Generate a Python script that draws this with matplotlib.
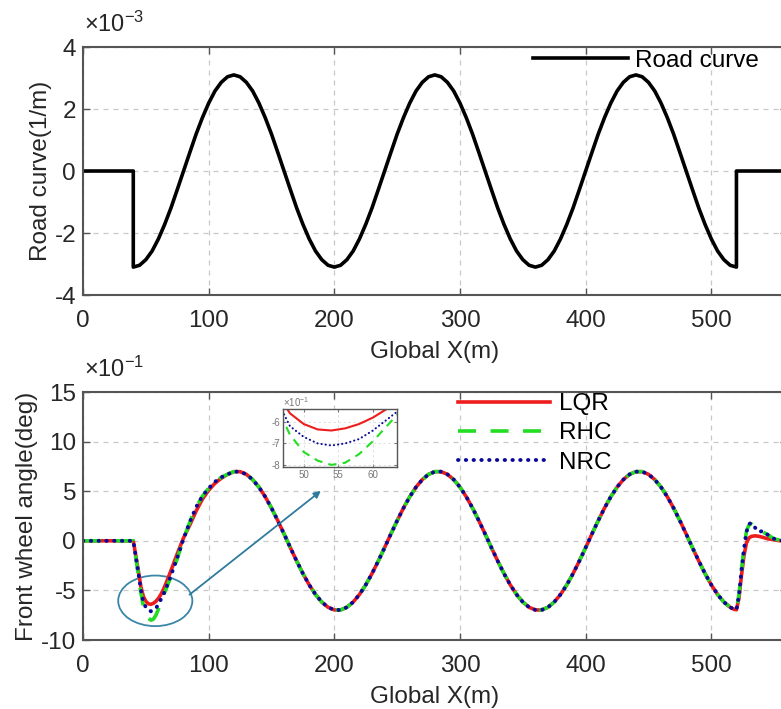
import numpy as np
import matplotlib
matplotlib.use("Agg")
import matplotlib.pyplot as plt
from matplotlib.patches import Ellipse

plt.rcParams['font.family'] = ['Liberation Sans', 'DejaVu Sans']
plt.rcParams['mathtext.fontset'] = 'custom'
plt.rcParams['mathtext.rm'] = 'Liberation Sans'
plt.rcParams['mathtext.it'] = 'Liberation Sans:italic'
plt.rcParams['mathtext.bf'] = 'Liberation Sans:bold'
plt.rcParams['axes.unicode_minus'] = False

TXT = '#262626'

road_x = [0, 5, 10, 15, 20, 25, 30, 35, 40, 40]
road_y = [0, 0, 0, 0, 0, 0, 0, 0, 0, -3.10]
# one 160 m period starting at the minimum, 5 m steps
road_period = [-3.10, -3.04, -2.86, -2.58, -2.19, -1.72, -1.19, -0.60,
               0.00, 0.60, 1.19, 1.72, 2.19, 2.58, 2.86, 3.04,
               3.10, 3.04, 2.86, 2.58, 2.19, 1.72, 1.19, 0.60,
               0.00, -0.60, -1.19, -1.72, -2.19, -2.58, -2.86, -3.04]
road_mid_y = road_period * 3 + [-3.10]
road_mid_x = list(range(40, 521, 5))
road_tail_x = [520, 525, 530, 540, 550, 560]
road_tail_y = [0, 0, 0, 0, 0, 0]

# ---- front wheel angle (x1e-1 deg) ----
head_x = [0, 40, 42, 44, 46, 48, 50, 52, 54, 56, 58, 60, 62, 64, 66, 70,
          75, 80, 85, 90, 95, 100, 105, 110]
lqr_head = [0, 0, -1.5, -3.0, -4.6, -5.6, -6.1, -6.35, -6.4, -6.3, -6.1, -5.8,
            -5.4, -4.9, -4.3, -3.0, -1.3, 0.3, 1.6, 3.0, 4.2, 5.1, 5.8, 6.3]
rhc_head = [0, 0, -1.7, -3.4, -5.2, -6.6, -7.4, -7.8, -8.0, -7.9, -7.5, -6.9,
            -6.2, -5.5, -4.9, -3.6, -1.8, 0.2, 1.9, 3.4, 4.5, 5.3, 5.95, 6.4]
nrc_head = [0, 0, -1.6, -3.2, -4.9, -6.2, -6.7, -7.0, -7.1, -7.0, -6.8, -6.4,
            -5.9, -5.4, -4.8, -3.5, -1.7, 0.2, 1.9, 3.4, 4.5, 5.3, 5.95, 6.4]

fw_period = [6.70, 6.97, 6.97, 6.70, 6.17, 5.41, 4.44, 3.30, 2.03, 0.69,
             -0.69, -2.03, -3.30, -4.44, -5.41, -6.17, -6.70, -6.97, -6.97, -6.70,
             -6.17, -5.41, -4.44, -3.30, -2.03, -0.69, 0.69, 2.03, 3.30, 4.44,
             5.41, 6.17]
mid_x = list(range(115, 506, 5))
fw_mid = fw_period * 2 + fw_period[:15]

tail_x = [510, 515, 518, 520, 522, 524, 526, 528, 530, 532, 535, 538, 541,
          545, 550, 555, 560]
lqr_tail = [-6.17, -6.70, -6.90, -6.95, -5.8, -3.5, -1.5, -0.2, 0.3, 0.45,
            0.5, 0.45, 0.35, 0.2, 0.1, 0.0, 0.0]
rhc_tail = [-6.17, -6.70, -6.90, -6.95, -5.4, -2.9, -0.7, 1.0, 1.6, 1.7,
            1.3, 0.9, 0.9, 0.6, 0.2, 0.05, 0.0]
nrc_tail = [-6.17, -6.70, -6.90, -6.95, -5.5, -3.0, -0.8, 0.9, 1.7, 1.8,
            1.3, 0.9, 1.0, 0.6, 0.2, 0.05, 0.0]

fw_x = head_x + mid_x + tail_x
series = {
    'LQR': lqr_head + fw_mid + lqr_tail,
    'RHC': rhc_head + fw_mid + rhc_tail,
    'NRC': nrc_head + fw_mid + nrc_tail,
}
styles = {
    'LQR': dict(color='#ee1c1c', lw=2.6, ls='-'),
    'RHC': dict(color='#22dd22', lw=2.6, ls=(0, (5, 4))),
    'NRC': dict(color='#0a0a9a', lw=2.8, ls=(0, (0.1, 1.9)), dash_capstyle='round'),
}

fig = plt.figure(figsize=(7.81, 7.09), dpi=100)
ax1 = fig.add_axes([0.1063, 0.5839, 0.901, 0.3498])
ax2 = fig.add_axes([0.1063, 0.0973, 0.901, 0.3498])


def style_axes(ax):
    ax.set_xlim(0, 560)
    ax.set_xticks([0, 100, 200, 300, 400, 500])
    ax.grid(True, ls=(0, (4, 4)), color='#c8c8c8', lw=0.9)
    ax.tick_params(direction='in', top=True, right=True, length=5, width=1,
                   labelsize=17.5, colors='#555555', labelcolor=TXT, pad=5)
    ax.tick_params(axis='x', pad=11)
    for s in ax.spines.values():
        s.set_color('#555555')
        s.set_linewidth(1.5)
    ax.set_xlabel('Global X(m)', fontsize=17.5, color=TXT, labelpad=6)


# top: road curve
road_all_x = road_x + road_mid_x + road_tail_x
road_all_y = road_y + road_mid_y + road_tail_y
ax1.plot(road_all_x, road_all_y, color='black', lw=2.6, label='Road curve')
ax1.set_ylim(-4, 4)
ax1.set_yticks([-4, -2, 0, 2, 4])
style_axes(ax1)
ax1.set_ylabel('Road curve(1/m)', fontsize=17.5, color=TXT, labelpad=2)
ax1.legend(loc='upper left', bbox_to_anchor=(0.6825, 0.9295),
           bbox_transform=fig.transFigure, frameon=False, fontsize=17.5,
           handlelength=3.9, handletextpad=0.3, borderpad=0, borderaxespad=0)
fig.text(0.108, 0.955, r'$\times10^{-3}$', fontsize=17, color=TXT)

# bottom: front wheel angle
for name in ['LQR', 'RHC', 'NRC']:
    ax2.plot(fw_x, series[name], label=name, **styles[name])
ax2.set_ylim(-10, 15)
ax2.set_yticks([-10, -5, 0, 5, 10, 15])
style_axes(ax2)
ax2.set_ylabel('Front wheel angle(deg)', fontsize=17.5, color=TXT, labelpad=2)
ax2.legend(loc='upper left', bbox_to_anchor=(0.5864, 0.4457),
           bbox_transform=fig.transFigure, frameon=False, fontsize=17.5,
           handlelength=3.8, handletextpad=0.35, borderpad=0, borderaxespad=0,
           labelspacing=0.3)
fig.text(0.108, 0.468, r'$\times10^{-1}$', fontsize=17, color=TXT)

# ellipse + arrow pointing to the zoom
ax2.add_patch(Ellipse((57.5, -6.05), 59, 5.1, fill=False, ec='#3a86a8', lw=1.3))
ax2.annotate('', xy=(191, 5.2), xytext=(83, -5.6),
             arrowprops=dict(arrowstyle='-|>', color='#2f7b9c', lw=1.3,
                             mutation_scale=10))

# zoomed inset
axi = fig.add_axes([0.3624, 0.3413, 0.146, 0.0818])
for name in ['LQR', 'RHC', 'NRC']:
    st = dict(styles[name])
    st['lw'] = 1.5
    if name == 'RHC':
        st['ls'] = (0, (4, 3))
    axi.plot(fw_x, series[name], **st)
axi.set_xlim(47, 63.5)
axi.set_ylim(-8.1, -5.4)
axi.set_xticks([50, 55, 60])
axi.set_yticks([-8, -7, -6])
axi.grid(True, ls=(0, (3, 3)), color='#dddddd', lw=0.6)
axi.tick_params(direction='in', length=2, labelsize=7, colors='#777777',
                labelcolor='#777777', pad=2, top=True, right=True)
for s in axi.spines.values():
    s.set_color('#555555')
    s.set_linewidth(1.0)
axi.text(0.0, 1.04, r'$\times10^{-1}$', transform=axi.transAxes, fontsize=7,
         color='#777777')

fig.savefig('out.png', dpi=100)
